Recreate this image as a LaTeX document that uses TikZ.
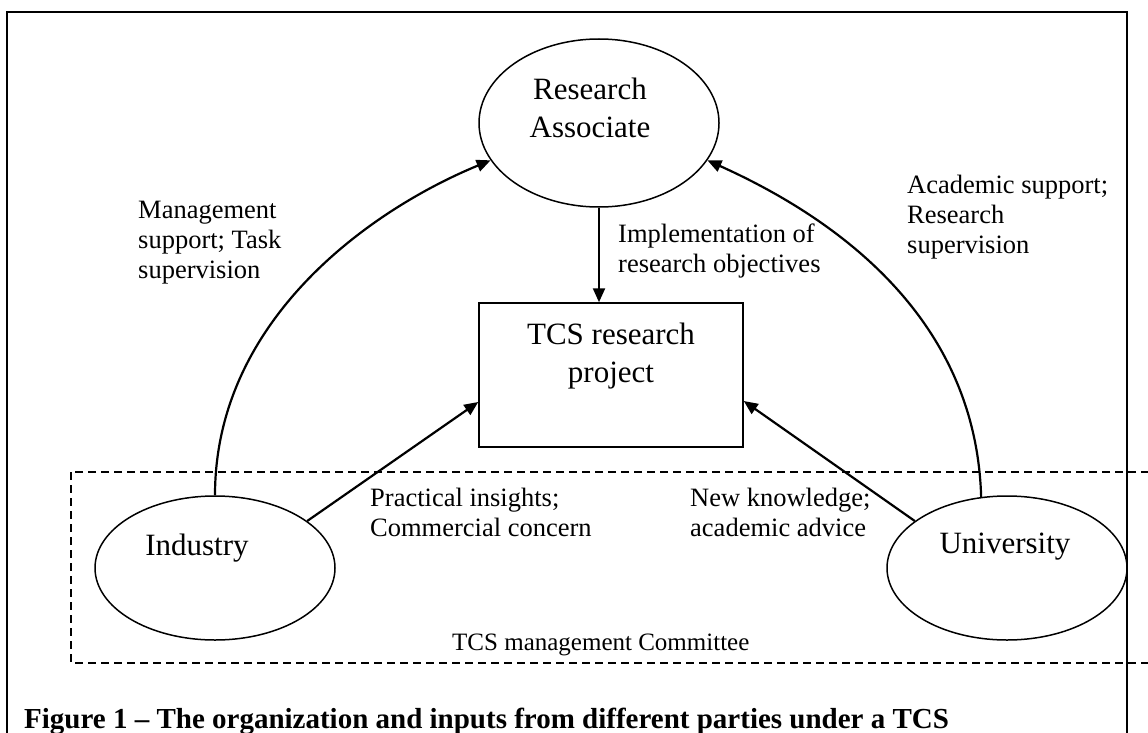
\documentclass[tikz,border=0pt]{standalone}
\usepackage{fontspec}
\setmainfont{Liberation Serif}
\usetikzlibrary{shapes.geometric,arrows.meta}
\begin{document}
\begin{tikzpicture}[x=1pt,y=-1pt,
  party/.style={draw,ellipse,line width=1.5pt,minimum width=240pt,minimum height=144pt,inner sep=0pt},
  projbox/.style={draw,rectangle,line width=1.5pt,minimum width=264pt,minimum height=144pt,inner sep=0pt},
  nodetext/.style={inner sep=0pt,align=center,anchor=base,font=\fontsize{31}{38}\selectfont},
  flowlabel/.style={inner sep=0pt,align=left,anchor=base west,font=\fontsize{26.5}{30}\selectfont},
  conn/.style={line width=2.2pt,-{Triangle[length=14pt,width=12pt]}},
  committee/.style={line width=1.3pt,dash pattern=on 8pt off 5pt},
  frame/.style={line width=2.4pt}
]
\useasboundingbox (0,0) rectangle (1148,733);

% outer frame (open at the bottom)
\draw[frame] (7,745) -- (7,12) -- (1127,12) -- (1127,745);

% management committee boundary
\draw[committee] (71,472) rectangle (1160,663);
\node[flowlabel,font=\fontsize{25}{30}\selectfont] (cmt) at (452,650) {TCS management Committee};

% parties and project
\node[party,minimum height=168pt] (ra) at (599,123) {};
\node[projbox] (tcs) at (611,375) {};
\node[party] (ind) at (215,568) {};
\node[party] (uni) at (1007,568) {};

% node texts (anchored at the baseline of their last line)
\node[nodetext] (ratext) at (590,138) {Research\\Associate};
\node[nodetext] (tcstext) at (611,382) {TCS research\\project};
\node[nodetext] (indtext) at (197,555) {Industry};
\node[nodetext] (unitext) at (1005,553) {University};

% flows
\draw[conn] (ra.south) -- (ra.south |- tcs.north);
\draw[conn] (ind.27) -- ([yshift=-27pt]tcs.west);
\draw[conn] (uni.153) -- ([yshift=-26pt]tcs.east);
\draw[conn] (ind.north) .. controls (215,320) and (370,210) .. (ra.199);
\draw[conn] (uni.110) .. controls (976,320) and (840,220) .. (ra.341);

% flow labels
\node[flowlabel] (lmgmt) at (138,278) {Management\\support; Task\\supervision};
\node[flowlabel] (limpl) at (618,272) {Implementation of\\research objectives};
\node[flowlabel] (lacad) at (907,253) {Academic support;\\Research\\supervision};
\node[flowlabel] (lprac) at (370,536) {Practical insights;\\Commercial concern};
\node[flowlabel] (lnew) at (690,536) {New knowledge;\\academic advice};

% caption
\node[inner sep=0pt,anchor=base west,font=\fontsize{29}{34}\selectfont\bfseries] (caption) at (24,728)
  {Figure 1 -- The organization and inputs from different parties under a TCS};
\end{tikzpicture}
\end{document}
